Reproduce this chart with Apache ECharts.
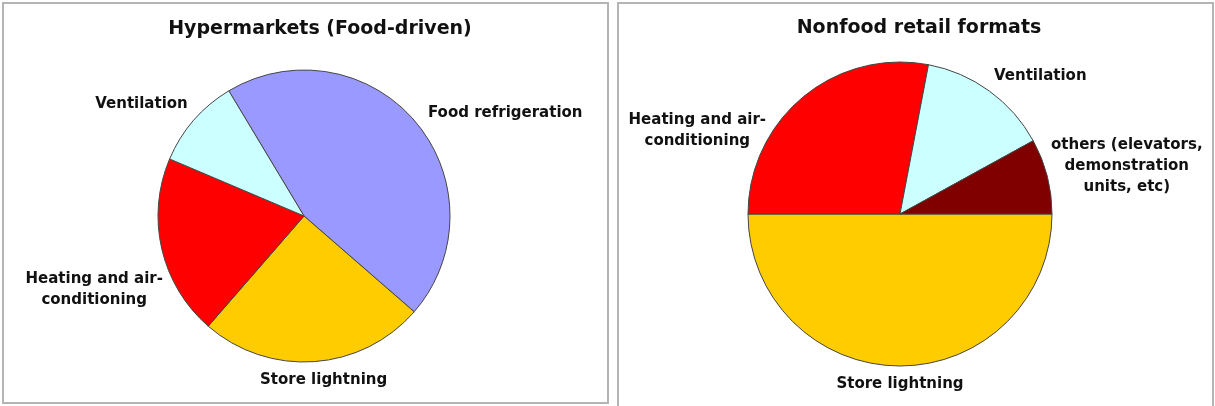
<!DOCTYPE html>
<html>
<head>
<meta charset="utf-8">
<script src="https://cdn.jsdelivr.net/npm/echarts@6/dist/echarts.min.js"></script>
<style>
  html, body { margin: 0; padding: 0; background: #fff; }
  #main { width: 1215px; height: 406px; }
</style>
</head>
<body>
<div id="main"></div>
<script>
// data (shares in %)
const hyperCategories = ['Food refrigeration', 'Store lightning', 'Heating and air-\nconditioning', 'Ventilation']
const hyperValues = [45, 25, 20, 10]
const nonfoodCategories = ['Store lightning', 'Heating and air-\nconditioning', 'Ventilation', 'others (elevators,\ndemonstration\nunits, etc)']
const nonfoodValues = [50, 28, 14, 8]

const colors = {
  'Food refrigeration': '#9999ff',
  'Store lightning': '#ffcc00',
  'Heating and air-\nconditioning': '#ff0000',
  'Ventilation': '#ccffff',
  'others (elevators,\ndemonstration\nunits, etc)': '#800000'
}

const chart = echarts.init(document.getElementById('main'))

// Excel style "outside end" labels: put the box just outside the arc at the middle angle
// of the slice, then small manual nudges where Excel moved the label
function outsideLabel(seriesIndex, nudges) {
  return function (params) {
    const lay = chart.getModel().getSeriesByIndex(seriesIndex).getData().getItemLayout(params.dataIndex)
    const mid = (lay.startAngle + lay.endAngle) / 2
    const dx = Math.cos(mid), dy = Math.sin(mid)
    const R = lay.r + 8
    const w = params.labelRect.width, h = params.labelRect.height
    const clamp = v => Math.max(-1, Math.min(1, v))
    const n = nudges[params.dataIndex] || [0, 0]
    return {
      x: lay.cx + dx * R + w / 2 * clamp(2 * dx) + n[0],
      y: lay.cy + dy * R + h / 2 * clamp(2 * dy) + n[1],
      align: 'center',
      verticalAlign: 'middle'
    }
  }
}

function pieData(names, values) {
  return names.map((name, i) => ({ name: name, value: values[i], itemStyle: { color: colors[name] } }))
}

const labelStyle = {
  show: true,
  position: 'outside',
  formatter: '{b}',
  color: '#111',
  fontFamily: 'DejaVu Sans',
  fontWeight: 'bold',
  fontSize: 15,
  lineHeight: 21,
  align: 'center'
}

const option = {
  animation: false,
  title: [
    {
      text: 'Hypermarkets (Food-driven)',
      left: 315, top: 15, textAlign: 'center',
      textStyle: { fontFamily: 'DejaVu Sans', fontWeight: 'bold', fontSize: 19, color: '#111' }
    },
    {
      text: 'Nonfood retail formats',
      left: 914, top: 14, textAlign: 'center',
      textStyle: { fontFamily: 'DejaVu Sans', fontWeight: 'bold', fontSize: 19, color: '#111' }
    }
  ],
  graphic: [
    { type: 'rect', z: -1, shape: { x: 3, y: 3, width: 605, height: 400 }, style: { fill: 'none', stroke: '#b4b4b4', lineWidth: 2 } },
    { type: 'rect', z: -1, shape: { x: 618, y: 3, width: 595, height: 410 }, style: { fill: 'none', stroke: '#b4b4b4', lineWidth: 2 } }
  ],
  series: [
    {
      name: 'Hypermarkets',
      type: 'pie',
      center: [304, 216],
      radius: 146,
      startAngle: 121,
      clockwise: true,
      avoidLabelOverlap: false,
      label: labelStyle,
      labelLine: { show: false },
      labelLayout: outsideLabel(0, { 0: [6, 7], 2: [9, 30] }),
      itemStyle: { borderColor: '#444', borderWidth: 1 },
      emphasis: { disabled: true },
      data: pieData(hyperCategories, hyperValues)
    },
    {
      name: 'Nonfood',
      type: 'pie',
      center: [900, 214],
      radius: 152,
      startAngle: 0,
      clockwise: true,
      avoidLabelOverlap: false,
      label: labelStyle,
      labelLine: { show: false },
      labelLayout: outsideLabel(1, { 1: [-32, 61], 2: [0, 2], 3: [-4, 8] }),
      itemStyle: { borderColor: '#444', borderWidth: 1 },
      emphasis: { disabled: true },
      data: pieData(nonfoodCategories, nonfoodValues)
    }
  ]
}

chart.setOption(option)
</script>
</body>
</html>
